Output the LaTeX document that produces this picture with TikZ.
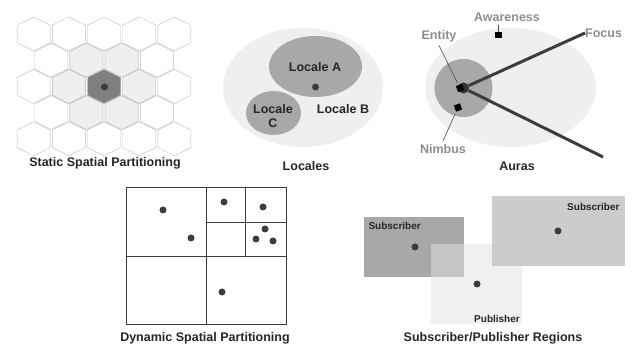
\documentclass[tikz,border=0pt]{standalone}
\usepackage{fontspec}
\setmainfont{Liberation Sans}
\usepackage{tikz}
\usetikzlibrary{positioning}

\definecolor{hexline}{HTML}{BDBDBD}
\definecolor{hexlight}{HTML}{EFEFEF}
\definecolor{hexdark}{HTML}{7F7F7F}
\definecolor{palegray}{HTML}{EFEFEF}
\definecolor{midgray}{HTML}{A8A8A8}
\definecolor{subgray}{HTML}{CCCCCC}
\definecolor{pubgray}{HTML}{E2E2E2}
\definecolor{inkgray}{HTML}{3C3C3C}
\definecolor{labelgray}{HTML}{8C8C8C}

\begin{document}
\begin{tikzpicture}[x=1pt,y=-1pt,
      font=\bfseries\fontsize{12.5}{14}\selectfont,
      title/.style={text=black!85},
      small label/.style={font=\bfseries\fontsize{10}{12}\selectfont,text=black!85},
      aura label/.style={text=labelgray},
      marker/.style={fill=black,minimum size=6.5pt,inner sep=0pt},
      dot/.style={circle,fill=inkgray,minimum size=7pt,inner sep=0pt},
      hexcell/.pic={\path[pic actions] (0,-17) -- (16.5,-8.8) -- (16.5,8.8) -- (0,17) -- (-16.5,8.8) -- (-16.5,-8.8) -- cycle;}]
    \useasboundingbox (0,0) rectangle (632,344);

    % static spatial partitioning
      \foreach \hy in {34,86.4,138.8}
        \foreach \hx in {33.6,68.8,104,139.2,174.4}
          \pic[draw=hexline,fill=white] at (\hx,\hy) {hexcell};
      \foreach \hy in {60.2,112.6}
        \foreach \hx in {51.2,86.4,121.6,156.8}
          \pic[draw=hexline,fill=white] at (\hx,\hy) {hexcell};
      \foreach \hx/\hy in {86.4/60.2,121.6/60.2,68.8/86.4,139.2/86.4,86.4/112.6,121.6/112.6}
        \pic[draw=hexline,fill=hexlight] at (\hx,\hy) {hexcell};
      \pic[draw=hexline,fill=hexdark] at (104,86.4) {hexcell};
      \node[dot] (cell) at (104.5,87) {};
      \node[title] (static) at (105,163) {Static Spatial Partitioning};

    % locales
      \fill[palegray] (303,87.5) ellipse [x radius=80,y radius=59.5];
      \fill[midgray] (315.5,66.5) ellipse [x radius=46.5,y radius=30.5];
      \fill[midgray] (273.5,113) ellipse [x radius=27.5,y radius=22];
      \node[title] (localeA) at (315,67) {Locale A};
      \node[title] (localeB) at (343,109) {Locale B};
      \node[title,align=center] (localeC) at (273,116) {Locale\\C};
      \node[dot] (member) at (315.5,87) {};
      \node[title] (locales) at (306,166) {Locales};

    % auras
      \fill[palegray] (510.5,87.5) ellipse [x radius=85.5,y radius=59.5];
      \fill[midgray] (463.5,88) circle (29);
      \coordinate (tail) at (603,157);
      \node[aura label,anchor=west,inner sep=0pt] (focus) at (585,33) {Focus};
      \node[aura label] (awareness) at (507,17) {Awareness};
      \node[aura label] (entitylbl) at (439,36) {Entity};
      \node[aura label] (nimbuslbl) at (443,149) {Nimbus};
      \node[circle,fill=inkgray!80!black,minimum size=11pt,inner sep=0pt] (hub) at (463.5,88) {};
      \node[marker,rotate=20] (entity) at (460,88) {};
      \node[marker,rotate=20] (nimbus) at (458,107.5) {};
      \node[marker] (aware) at (498.5,35) {};
      \node[title] (auras) at (517,166) {Auras};

      \foreach \from/\to in {hub/focus.west,hub/tail}
	\draw[inkgray,line width=3pt] (\from) -- (\to);
      \foreach \from/\to in {entitylbl.south/entity,nimbuslbl.north/nimbus}
	\draw[black!70,line width=0.6pt,shorten >=2pt] (\from) -- (\to);
      \draw[black!70,line width=0.6pt] (aware) -- (aware |- awareness.south);

    % dynamic spatial partitioning
      \draw[inkgray,line width=0.9pt] (126,187) rectangle (286,324);
      \draw[inkgray,line width=0.9pt] (206,187) -- (206,324);
      \draw[inkgray,line width=0.9pt] (126,256) -- (286,256);
      \draw[inkgray,line width=0.9pt] (245.5,187) -- (245.5,256);
      \draw[inkgray,line width=0.9pt] (206,222) -- (286,222);
      \foreach \px/\py [count=\i] in {163/210,191/238,224/202,263/207,265/229,256/239,273/241,222/292}
        \node[dot] (obj\i) at (\px,\py) {};
      \node[title] (dynamic) at (205,338) {Dynamic Spatial Partitioning};

    % subscriber/publisher regions
      \fill[midgray] (364,217) rectangle (464,277);
      \fill[pubgray,fill opacity=0.5] (431,244) rectangle (522,324);
      \fill[subgray] (492,196) rectangle (625,266);
      \node[small label,anchor=west] (sub1) at (365,226) {Subscriber};
      \node[small label,anchor=east] (sub2) at (623,207) {Subscriber};
      \node[small label] (pub) at (497,319) {Publisher};
      \node[dot] (sub1dot) at (415,247) {};
      \node[dot] (pubdot) at (477,284) {};
      \node[dot] (sub2dot) at (558,231) {};
      \node[title] (subpub) at (493,338) {Subscriber/Publisher Regions};

\end{tikzpicture}
\end{document}
